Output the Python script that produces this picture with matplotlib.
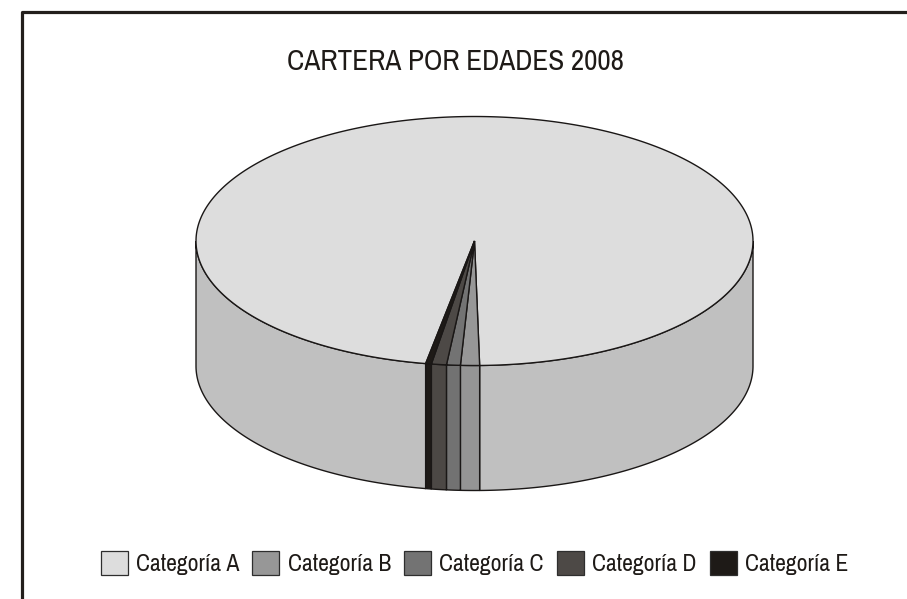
import numpy as np
import matplotlib
matplotlib.use('Agg')
from matplotlib import pyplot as plt
from matplotlib.patches import Polygon, Patch

plt.rcParams['font.family'] = ['Archivo Narrow', 'Roboto Condensed', 'DejaVu Sans']

# datos (porcentaje de cartera)
categorias = ['Categoría A', 'Categoría B', 'Categoría C', 'Categoría D', 'Categoría E']
valores = [96.9, 1.1, 0.8, 0.87, 0.33]
colores_top = ['#dddddd', '#979797', '#737373', '#4d4946', '#1e1a17']
colores_lado = ['#c0c0c0', '#959595', '#727272', '#4c4845', '#1e1a17']
titulo = 'CARTERA POR EDADES 2008'

W, H = 907, 599
fig = plt.figure(figsize=(W / 100, H / 100), dpi=100)
ax = fig.add_axes([0, 0, 1, 1])
ax.set_xlim(0, W)
ax.set_ylim(H, 0)
ax.axis('off')

# marco del grafico
borde = '#231f1c'
ax.plot([21.5, 21.5, W + 5], [H + 5, 11.5, 11.5], color=borde, lw=2.3, solid_capstyle='butt')

# geometria del pastel 3D
cx, cy, a, b, prof = 474.5, 241, 278.5, 124.5, 125
inicio = 259.9  # angulo inicial, sentido horario
linea = '#1a1716'


def punto(t, dy=0.0):
    r = np.radians(t)
    return np.column_stack([cx + a * np.cos(r), cy - b * np.sin(r) + dy])


total = float(sum(valores))
rangos = []
hi = inicio
for v in valores:
    lo = hi - 360.0 * v / total
    rangos.append((lo, hi))
    hi = lo

# lados (solo mitad frontal)
for (lo, hi), col in zip(rangos, colores_lado):
    for k in (-1, 0, 1):
        s = max(lo, 180 + 360 * k)
        e = min(hi, 360 + 360 * k)
        if e > s:
            ts = np.linspace(s, e, 200)
            arriba = punto(ts)
            abajo = punto(ts[::-1], prof)
            ax.add_patch(Polygon(np.vstack([arriba, abajo]), closed=True,
                                 facecolor=col, edgecolor=linea, lw=1.0, zorder=2))

# caras superiores
for (lo, hi), col in zip(rangos, colores_top):
    ts = np.linspace(lo, hi, 400)
    pts = np.vstack([[cx, cy], punto(ts)])
    ax.add_patch(Polygon(pts, closed=True, facecolor=col, edgecolor=linea,
                         lw=1.0, zorder=3, joinstyle='miter'))

# titulo
ax.text(455, 62, titulo, ha='center', va='center', fontsize=21, color='#1e1a17')

# leyenda
manijas = [Patch(facecolor=c, edgecolor='#2e2e2e', lw=0.9) for c in colores_top]
fig.legend(manijas, categorias, loc='center', bbox_to_anchor=(cx / W, 1 - 563 / H),
           ncol=5, frameon=False, fontsize=17, handlelength=1.15, handleheight=1.15,
           handletextpad=0.35, columnspacing=0.55, borderpad=0, borderaxespad=0,
           labelcolor='#1e1a17')

fig.savefig('out.png', dpi=100, facecolor='white')
